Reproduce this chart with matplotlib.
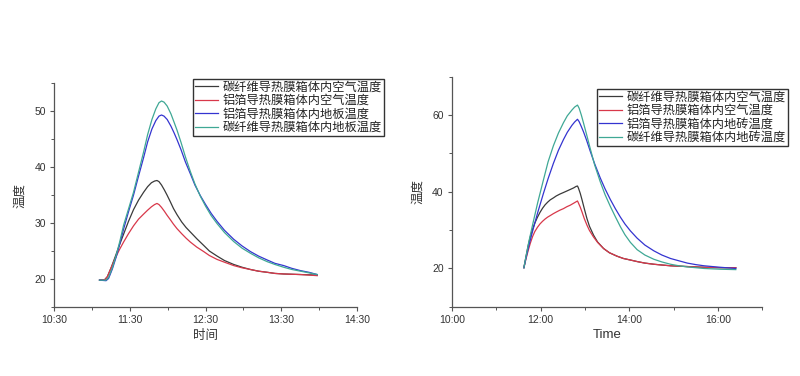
import matplotlib
matplotlib.use('Agg')
import matplotlib.pyplot as plt
from matplotlib.ticker import FuncFormatter, MultipleLocator

plt.rcParams['font.family'] = ['Liberation Sans', 'Noto Sans CJK SC']

'''
Data (time in minutes since midnight, temperature in degC)
'''
# left chart: 地板
left_labels = ['碳纤维导热膜箱体内空气温度', '铝箔导热膜箱体内空气温度',
               '铝箔导热膜箱体内地板温度', '碳纤维导热膜箱体内地板温度']

left_air_t = [665.8, 670, 672, 675, 678.3, 681.5, 684.9, 688.8, 692.8, 696.8, 700.8,
              704, 707, 709.5, 711.4, 713, 715, 717.3, 719.4, 722, 724.5, 727.3, 731,
              734.5, 737.9, 743, 748.5, 753, 759.1, 765, 772.3, 779, 785.6, 792, 798.9,
              805, 812, 825.3, 838.6]
left_air_cf_v = [19.8, 19.9, 20.4, 22.0, 24.0, 26.0, 28.0, 30.3, 32.4, 34.1, 35.5,
                 36.5, 37.2, 37.5, 37.6, 37.4, 36.8, 35.9, 35.0, 33.8, 32.6, 31.5, 30.2,
                 29.2, 28.4, 27.2, 26.0, 25.0, 24.1, 23.3, 22.6, 22.1, 21.7, 21.4, 21.2,
                 21.0, 20.9, 20.8, 20.7]
left_air_al_v = [19.8, 19.9, 20.4, 22.0, 23.7, 25.2, 26.6, 28.1, 29.5, 30.7, 31.6,
                 32.3, 32.9, 33.3, 33.5, 33.3, 32.8, 32.1, 31.4, 30.6, 29.8, 29.0, 28.1,
                 27.3, 26.6, 25.7, 24.9, 24.2, 23.5, 23.0, 22.4, 22.0, 21.7, 21.4, 21.2,
                 21.0, 20.9, 20.8, 20.6]

left_floor_t = [665.8, 671, 673, 676, 679, 682, 684.9, 688.8, 692.8, 696.8, 700.8, 704,
                707.4, 710.5, 713, 715, 717, 719.5, 722.5, 725, 727.3, 730.5, 734, 737.9,
                741.5, 745.8, 750, 754.5, 759.1, 765, 772.3, 779, 785.6, 792, 798.9, 805,
                812, 818.5, 825.3, 832, 838.6]
left_floor_al_v = [19.8, 19.7, 20.1, 21.8, 23.9, 26.4, 28.9, 32.0, 35.0, 38.4, 41.7,
                   44.5, 46.8, 48.3, 49.1, 49.3, 49.1, 48.5, 47.3, 46.1, 44.9, 43.1, 40.9,
                   38.8, 36.8, 34.9, 33.3, 31.7, 30.3, 28.7, 27.1, 25.9, 24.9, 24.1, 23.4,
                   22.8, 22.4, 21.9, 21.5, 21.2, 20.8]
left_floor_cf_v = [19.8, 19.8, 20.3, 22.0, 24.2, 26.8, 29.6, 32.5, 35.5, 39.1, 42.7,
                   45.8, 48.5, 50.4, 51.5, 51.8, 51.6, 50.9, 49.5, 48.0, 46.6, 44.4, 41.8,
                   39.2, 37.0, 34.8, 33.0, 31.3, 29.9, 28.3, 26.7, 25.5, 24.6, 23.8, 23.1,
                   22.6, 22.1, 21.7, 21.4, 21.1, 20.8]

# right chart: 地砖
right_labels = ['碳纤维导热膜箱体内空气温度', '铝箔导热膜箱体内空气温度',
                '铝箔导热膜箱体内地砖温度', '碳纤维导热膜箱体内地砖温度']

right_air_t = [697.3, 700, 703, 706, 709, 712, 715.5, 719, 722.5, 726, 729.5, 733,
               737.2, 741, 746, 750.8, 755.4, 760, 764.5, 768, 769.8, 771, 773.5, 775.8,
               779, 782.6, 786, 791.5, 797, 805.1, 813, 823.3, 832, 841.4, 850.5, 861,
               873.1, 884, 895.7, 918.4, 941, 963.7, 984]
right_air_cf_v = [20.2, 23.0, 25.9, 28.3, 30.2, 31.8, 33.3, 34.6, 35.7, 36.6, 37.3,
                  37.9, 38.4, 38.9, 39.4, 39.8, 40.2, 40.6, 41.0, 41.4, 41.5, 41.0, 39.6,
                  38.0, 35.6, 33.0, 31.0, 28.7, 26.9, 25.2, 24.1, 23.2, 22.6, 22.2, 21.8,
                  21.4, 21.1, 20.9, 20.7, 20.5, 20.3, 20.2, 20.2]
right_air_al_v = [20.2, 22.4, 24.6, 26.6, 28.3, 29.6, 30.7, 31.6, 32.3, 32.9, 33.4,
                  33.8, 34.3, 34.7, 35.2, 35.6, 36.1, 36.5, 37.0, 37.4, 37.6, 37.1, 36.0,
                  34.8, 33.0, 31.3, 29.9, 28.2, 26.8, 25.2, 24.1, 23.2, 22.6, 22.2, 21.8,
                  21.4, 21.1, 20.9, 20.7, 20.5, 20.3, 20.2, 20.2]

right_floor_t = [697.3, 700, 704, 710, 716, 723.6, 730, 737.2, 744, 750.8, 756, 762.2,
                 766, 769.8, 772, 775, 778, 782, 787, 793, 800.6, 807, 814.2, 821, 827.8,
                 834, 841.4, 850.5, 861, 873.1, 884, 895.7, 907, 918.4, 930, 941, 952,
                 963.7, 984]
right_floor_al_v = [20.2, 22.6, 26.0, 30.4, 34.6, 39.5, 43.4, 47.4, 50.8, 53.6, 55.5,
                    57.3, 58.2, 58.9, 58.3, 57.0, 55.6, 53.5, 50.6, 47.3, 43.6, 40.8,
                    38.0, 35.6, 33.4, 31.6, 29.8, 27.9, 26.1, 24.6, 23.5, 22.6, 22.0,
                    21.4, 21.0, 20.7, 20.5, 20.3, 20.0]
right_floor_cf_v = [20.2, 23.0, 27.0, 32.2, 37.2, 43.0, 47.8, 52.0, 55.3, 58.0, 59.8,
                    61.3, 62.1, 62.6, 61.8, 60.0, 57.9, 55.0, 51.3, 47.0, 42.6, 39.3,
                    36.2, 33.5, 30.9, 28.8, 26.8, 24.9, 23.5, 22.4, 21.7, 21.1, 20.7,
                    20.4, 20.2, 20.0, 19.9, 19.8, 19.7]

colors = ['#3a3a3a', '#d8384a', '#3434d0', '#3fa895']


def hhmm(x, pos):
    x = int(round(x))
    return f'{x // 60}:{x % 60:02d}'


def style_axes(ax):
    for side in ['top', 'right']:
        ax.spines[side].set_visible(False)
    for side in ['left', 'bottom']:
        ax.spines[side].set_color('#555555')
        ax.spines[side].set_linewidth(0.9)
    ax.tick_params(which='major', direction='out', length=3, width=0.8,
                   color='#555555', labelsize=7.5, labelcolor='#333333', pad=3)
    ax.tick_params(which='minor', direction='out', length=2, width=0.7, color='#555555')
    ax.xaxis.set_major_formatter(FuncFormatter(hhmm))


def add_legend(fig, ax, labels, x, y):
    leg = ax.legend(labels, loc='upper left', bbox_to_anchor=(x, y),
                    bbox_transform=fig.transFigure, borderaxespad=0,
                    fontsize=8.8, frameon=True, fancybox=False, framealpha=1,
                    edgecolor='#333333', handlelength=1.9, handletextpad=0.35,
                    labelspacing=0.12, borderpad=0.2)
    leg.get_frame().set_linewidth(1.0)
    for t in leg.get_texts():
        t.set_color('#222222')


fig = plt.figure(figsize=(8, 3.76), dpi=100)

# left chart
ax1 = fig.add_axes([0.068, 0.1835, 0.378, 0.5955])
ax1.plot(left_air_t, left_air_cf_v, color=colors[0], lw=0.9)
ax1.plot(left_air_t, left_air_al_v, color=colors[1], lw=0.9)
ax1.plot(left_floor_t, left_floor_al_v, color=colors[2], lw=0.9)
ax1.plot(left_floor_t, left_floor_cf_v, color=colors[3], lw=0.9)
ax1.set_xlim(630, 870)
ax1.set_ylim(15, 55)
ax1.xaxis.set_major_locator(MultipleLocator(60, offset=30))
ax1.xaxis.set_minor_locator(MultipleLocator(30))
ax1.yaxis.set_major_locator(MultipleLocator(10))
ax1.yaxis.set_minor_locator(MultipleLocator(5))
style_axes(ax1)
ax1.set_xlabel('时间', fontsize=9, color='#333333', labelpad=3)
ax1.set_ylabel('温度', fontsize=9, color='#333333', labelpad=6)
add_legend(fig, ax1, left_labels, 0.241, 0.790)

# right chart
ax2 = fig.add_axes([0.565, 0.184, 0.388, 0.612])
ax2.plot(right_air_t, right_air_cf_v, color=colors[0], lw=0.9)
ax2.plot(right_air_t, right_air_al_v, color=colors[1], lw=0.9)
ax2.plot(right_floor_t, right_floor_al_v, color=colors[2], lw=0.9)
ax2.plot(right_floor_t, right_floor_cf_v, color=colors[3], lw=0.9)
ax2.set_xlim(600, 1020)
ax2.set_ylim(10, 70)
ax2.xaxis.set_major_locator(MultipleLocator(120))
ax2.xaxis.set_minor_locator(MultipleLocator(60))
ax2.yaxis.set_major_locator(MultipleLocator(20))
ax2.yaxis.set_minor_locator(MultipleLocator(10))
style_axes(ax2)
ax2.set_xlabel('Time', fontsize=9.5, color='#333333', labelpad=3)
ax2.set_ylabel('温度', fontsize=9, color='#333333', labelpad=6)
add_legend(fig, ax2, right_labels, 0.746, 0.763)

fig.savefig('out.png', dpi=100)
